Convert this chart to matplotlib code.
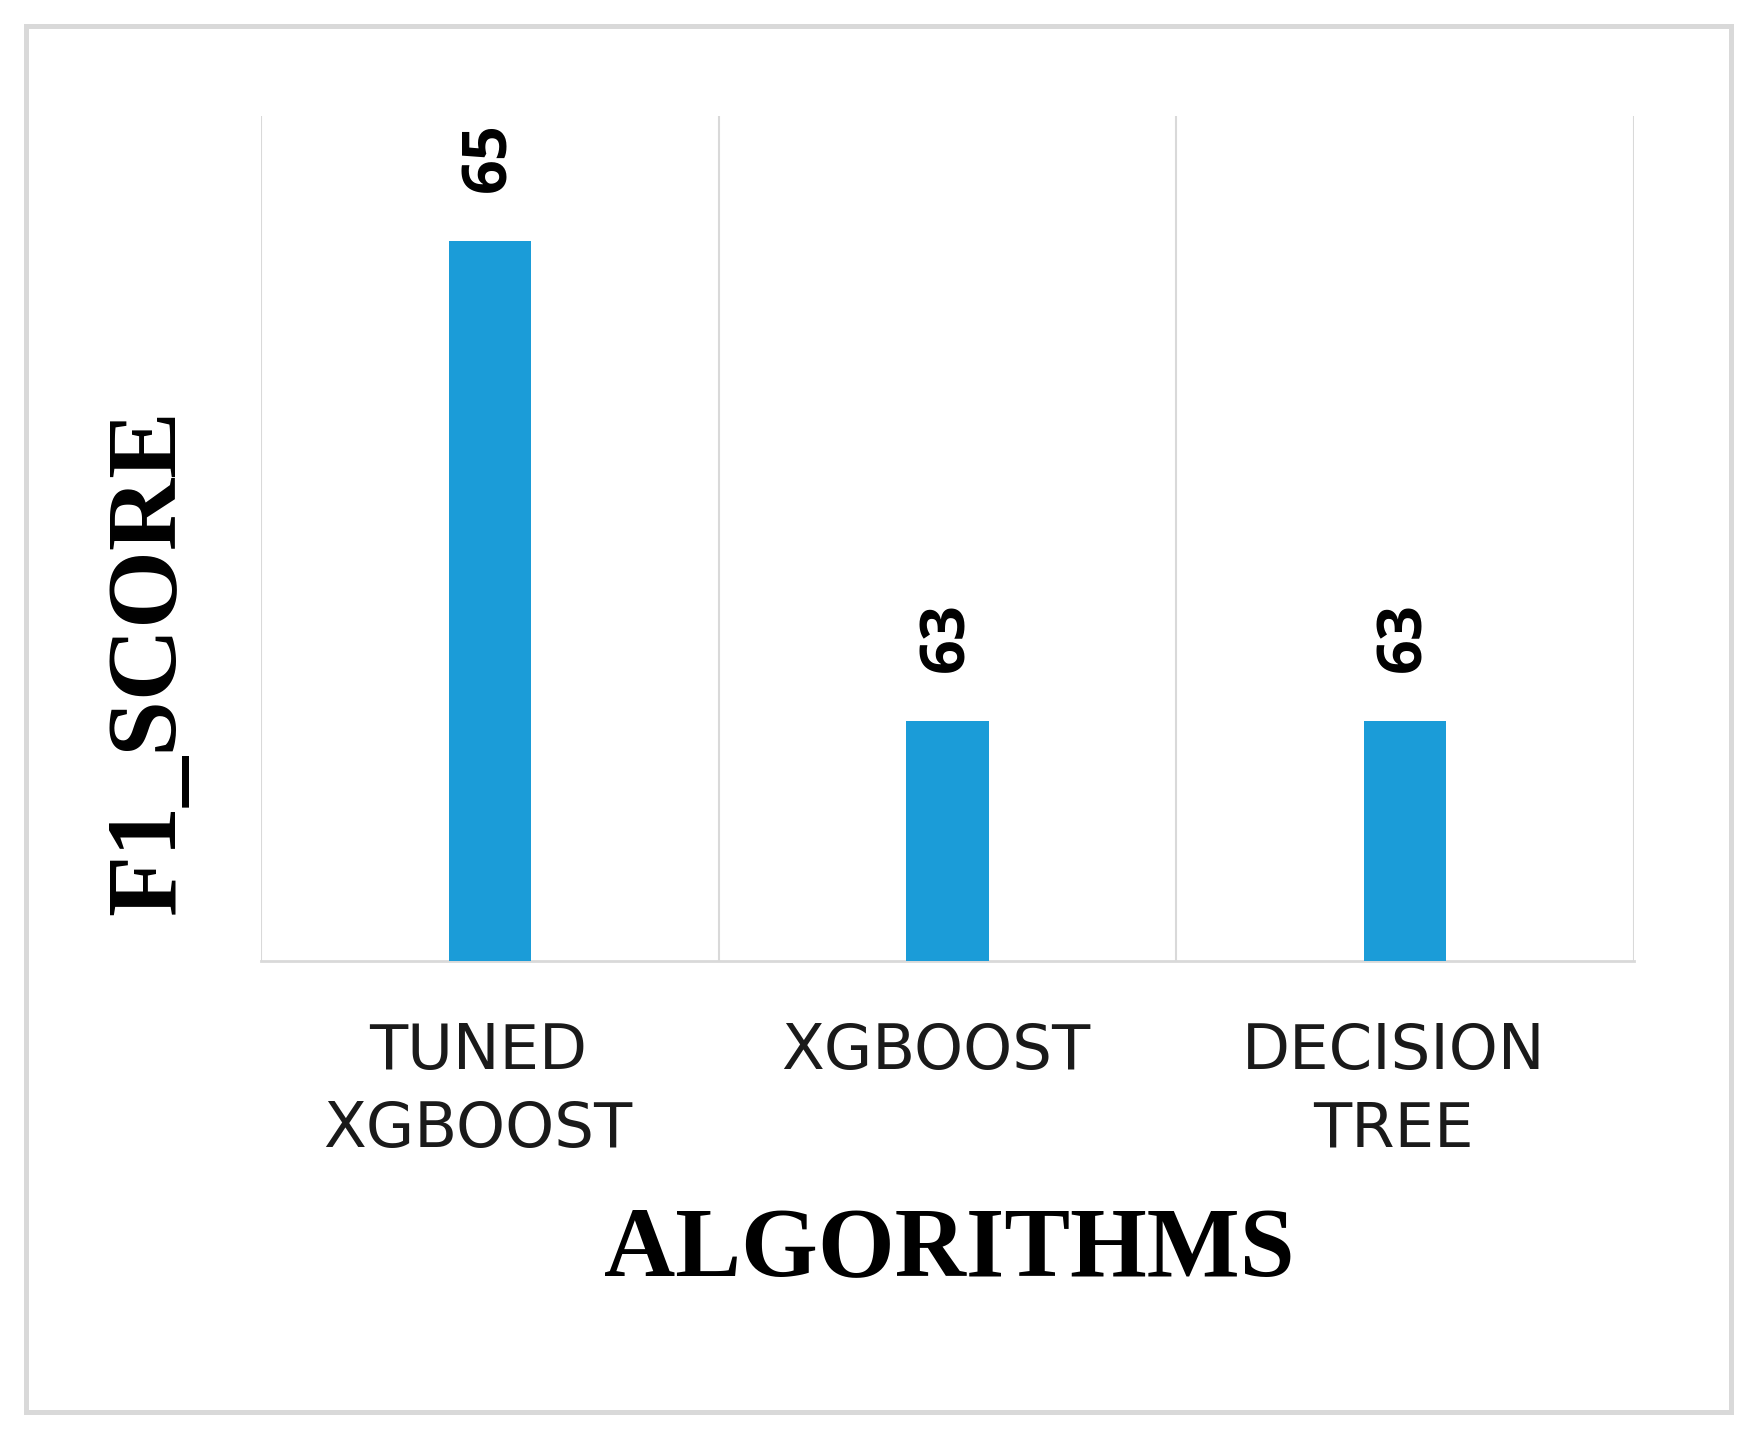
import matplotlib
matplotlib.use("Agg")
import matplotlib.pyplot as plt
import matplotlib.transforms as mtransforms
from matplotlib.patches import Rectangle

algorithms = ["TUNED\nXGBOOST", "XGBOOST", "DECISION\nTREE"]
f1_score = [65, 63, 63]
value_labels = ["65", "63", "63"]

W, H = 1759, 1438
fig = plt.figure(figsize=(W / 100, H / 100), dpi=100)
fig.patch.set_facecolor("white")

# outer light-gray frame
fig.patches.append(Rectangle((26 / W, 1 - 1412 / H), (1731 - 26) / W, (1412 - 26) / H,
                             transform=fig.transFigure, fill=False,
                             edgecolor="#d9d9d9", linewidth=3.6))

ax = fig.add_axes([261 / W, 1 - 961 / H, (1634 - 261) / W, (961 - 116) / H])
x = list(range(len(algorithms)))
ax.bar(x, f1_score, width=0.18, color="#1b9cd8", zorder=3)
ax.set_xlim(-0.5, len(algorithms) - 0.5)
ax.set_ylim(62, 65.52)

for xi in [i - 0.5 for i in range(len(algorithms) + 1)]:
    ax.axvline(xi, color="#d9d9d9", linewidth=1.5, zorder=1)

for sp in ["top", "left", "right"]:
    ax.spines[sp].set_visible(False)
ax.spines["bottom"].set_color("#d9d9d9")
ax.spines["bottom"].set_linewidth(2)
ax.set_yticks([])

ax.set_xticks(x)
ax.set_xticklabels(algorithms, fontsize=45, color="#1a1a1a", family="DejaVu Sans",
                   linespacing=1.38)
ax.tick_params(axis="x", length=0, pad=44)
shift = mtransforms.ScaledTranslation(-12 / 100, 0, fig.dpi_scale_trans)
for lbl in ax.get_xticklabels():
    lbl.set_transform(lbl.get_transform() + shift)

for xi, v, t in zip(x, f1_score, value_labels):
    ax.annotate(t, (xi, v), xytext=(0, 35), textcoords="offset points",
                rotation=90, ha="center", va="bottom", fontsize=44,
                fontweight="bold", family="Open Sans", color="black")

fig.text(150 / W, 1 - 662 / H, "F1_SCORE", rotation=90, ha="center", va="center",
         fontsize=72, fontweight="bold", family="Liberation Serif")
fig.text(949 / W, 1 - 1251 / H, "ALGORITHMS", ha="center", va="center",
         fontsize=71, fontweight="bold", family="Liberation Serif")

fig.savefig("out.png", dpi=100)
